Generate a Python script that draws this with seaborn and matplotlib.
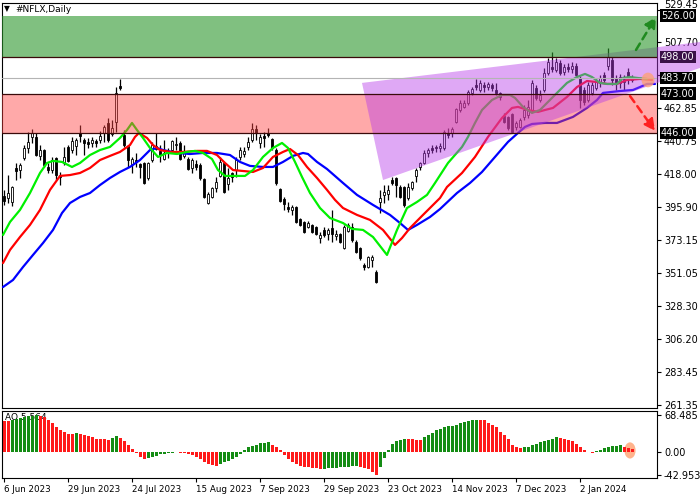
import matplotlib
matplotlib.use("Agg")
import matplotlib.pyplot as plt
import matplotlib.transforms as mtransforms
from matplotlib.patches import Polygon, Ellipse
import numpy as np
import pandas as pd
import seaborn as sns

sns.set_theme(style="white")
plt.rcParams['font.family'] = ['DejaVu Sans']

# ---------------- data ----------------
opens = [403.4, 402.0, 399.3, 422.4, 421.0, 429.2, 436.0, 443.5, 443.5, 430.6,
         434.6, 423.1, 421.0, 429.2, 417.6, 425.8, 436.7, 434.6, 437.4, 446.2,
         441.4, 440.1, 439.4, 440.7, 441.4, 446.2, 453.0, 445.5, 453.7, 478.1,
         444.8, 437.4, 425.1, 427.8, 425.1, 425.8, 415.6, 427.8, 435.3, 434.0,
         428.5, 434.0, 434.6, 438.0, 439.4, 430.6, 428.5, 422.4, 425.1, 424.4,
         415.0, 398.6, 402.7, 408.8, 417.0, 425.8, 411.5, 419.0, 421.0, 429.9,
         431.9, 436.7, 441.4, 448.9, 439.4, 444.1, 446.2, 442.1, 434.6, 408.1,
         401.3, 395.9, 393.9, 395.9, 387.8, 385.7, 382.3, 383.7, 382.3, 374.8,
         380.3, 377.6, 381.6, 376.2, 377.6, 368.0, 379.6, 382.3, 372.1, 368.0,
         356.5, 355.1, 359.9, 351.7, 399.3, 404.1, 404.7, 414.2, 415.6, 409.5,
         409.5, 402.0, 408.8, 417.0, 423.1, 425.8, 432.6, 436.0, 436.7, 436.0,
         436.0, 446.2, 446.2, 453.7, 461.8, 463.9, 466.6, 473.4, 478.8, 475.4,
         478.8, 477.4, 478.8, 475.4, 473.4, 457.7, 457.0, 459.1, 450.3, 450.3,
         457.0, 458.4, 461.8, 476.8, 468.6, 475.4, 487.0, 491.0, 489.0, 493.7,
         487.6, 491.0, 489.7, 491.7, 483.6, 475.4, 468.6, 473.4, 476.8, 480.2,
         485.6, 491.7, 495.8, 483.6, 480.2, 480.8, 487.6, 482.2]
highs = [407.5, 417.6, 410.2, 425.8, 425.8, 438.0, 446.9, 448.9, 446.2, 438.0,
         435.5, 425.8, 429.9, 429.9, 419.7, 436.7, 438.0, 443.5, 442.8, 451.6,
         442.8, 442.8, 443.5, 442.1, 447.6, 451.6, 456.4, 455.0, 477.4, 482.9,
         448.2, 438.0, 429.9, 432.6, 425.8, 426.5, 426.5, 440.1, 446.2, 438.0,
         441.4, 436.0, 441.4, 443.5, 440.7, 438.0, 429.9, 429.2, 427.8, 425.8,
         415.6, 406.1, 409.5, 416.3, 429.9, 426.5, 422.4, 419.7, 429.9, 436.7,
         436.7, 443.5, 453.0, 451.6, 445.5, 446.9, 449.6, 442.8, 436.0, 408.8,
         402.7, 399.3, 397.3, 396.6, 388.4, 386.4, 386.4, 384.4, 383.0, 378.9,
         382.3, 381.6, 393.9, 380.3, 378.2, 383.7, 385.0, 385.0, 373.5, 368.7,
         357.8, 362.6, 363.3, 353.1, 407.5, 410.8, 410.8, 416.3, 416.3, 410.8,
         410.2, 412.2, 413.6, 422.4, 426.5, 434.6, 436.0, 438.0, 438.0, 439.4,
         448.2, 449.6, 450.3, 463.2, 468.6, 468.6, 475.4, 477.4, 482.9, 482.2,
         480.8, 480.8, 480.2, 480.2, 474.1, 459.8, 457.7, 459.8, 454.4, 456.4,
         465.2, 468.6, 482.2, 478.8, 475.4, 490.4, 497.2, 501.2, 497.2, 495.8,
         493.1, 493.7, 494.4, 493.7, 484.9, 477.4, 480.8, 480.8, 483.6, 485.6,
         487.6, 504.0, 497.8, 485.6, 486.3, 485.6, 490.4, 485.6]
lows = [397.3, 398.6, 396.6, 414.2, 415.6, 427.8, 432.6, 439.4, 430.5, 427.8,
        423.1, 419.0, 419.0, 414.2, 410.8, 424.4, 426.5, 432.6, 431.2, 440.1,
        431.2, 436.0, 436.7, 436.7, 439.4, 440.1, 440.1, 444.1, 446.9, 475.4,
        436.7, 423.1, 419.0, 423.1, 415.6, 411.5, 414.2, 426.5, 434.6, 426.5,
        427.8, 429.2, 433.3, 434.6, 427.8, 429.2, 421.0, 419.0, 421.0, 414.2,
        402.0, 397.9, 402.0, 406.1, 416.3, 405.4, 407.5, 412.9, 416.3, 427.8,
        429.9, 434.6, 440.1, 441.4, 436.0, 436.7, 443.5, 434.6, 410.8, 399.3,
        393.9, 392.5, 390.5, 385.0, 383.0, 378.2, 381.6, 378.2, 376.9, 371.4,
        375.5, 373.5, 372.1, 373.5, 371.4, 367.3, 378.9, 372.1, 364.6, 359.9,
        353.1, 354.4, 355.1, 344.2, 391.8, 398.6, 400.7, 410.8, 402.7, 402.0,
        395.9, 400.7, 407.5, 412.9, 421.0, 425.1, 429.9, 432.6, 433.3, 433.3,
        434.6, 442.8, 443.5, 453.0, 460.5, 463.2, 465.2, 472.0, 475.4, 474.1,
        474.1, 475.4, 474.7, 472.0, 468.6, 453.0, 448.2, 446.2, 448.2, 449.6,
        455.0, 456.4, 460.5, 468.6, 467.2, 474.1, 485.6, 487.6, 487.6, 485.6,
        485.6, 487.6, 487.0, 484.2, 463.2, 465.2, 467.2, 472.0, 475.4, 477.4,
        480.2, 489.0, 478.8, 475.4, 476.8, 475.4, 479.5, 480.8]
closes = [400.0, 405.4, 409.5, 420.4, 424.4, 436.0, 440.1, 446.2, 431.2, 434.6,
          424.4, 421.0, 427.8, 417.6, 416.3, 429.9, 427.2, 440.7, 441.4, 444.1,
          439.4, 438.7, 441.4, 439.4, 444.1, 450.3, 441.4, 449.6, 473.4, 476.8,
          438.0, 427.8, 428.5, 426.5, 423.1, 412.2, 425.8, 438.0, 437.4, 431.2,
          432.6, 432.6, 440.7, 438.7, 428.5, 433.3, 421.7, 427.8, 423.1, 415.6,
          402.7, 404.7, 408.8, 412.9, 426.5, 406.1, 415.6, 416.3, 427.8, 434.6,
          434.0, 440.1, 448.9, 446.2, 443.5, 442.8, 444.8, 436.0, 412.2, 400.0,
          397.9, 394.6, 395.9, 385.7, 383.7, 378.9, 385.0, 378.9, 377.6, 376.9,
          376.9, 380.3, 377.6, 377.6, 372.1, 382.3, 383.7, 373.5, 365.3, 361.2,
          355.1, 361.9, 361.9, 344.9, 402.0, 406.1, 407.5, 412.2, 410.8, 402.7,
          397.3, 409.5, 412.9, 421.0, 425.8, 432.6, 434.6, 434.6, 436.0, 437.4,
          446.9, 444.8, 448.9, 462.5, 466.6, 466.6, 474.0, 476.1, 477.4, 480.2,
          477.4, 479.5, 476.8, 473.4, 470.7, 453.7, 449.6, 446.9, 453.0, 455.0,
          461.8, 463.9, 480.2, 470.0, 472.0, 487.0, 494.4, 489.7, 494.4, 487.0,
          491.0, 489.7, 491.7, 485.6, 468.6, 467.2, 478.8, 478.8, 480.8, 483.6,
          482.2, 497.8, 482.2, 480.2, 484.2, 482.9, 483.6, 483.7]

# Alligator lines (bar position, price)
jaw_x = [-0.25, 2.25, 4.75, 7.25, 9.75, 12.25, 14.5, 16.5, 19, 21.5, 24, 26.5, 29, 31.5,
         34, 36.5, 38.25, 39.75, 43.25, 46.5, 49.75, 53.25, 56.5, 59, 61.5, 64.75, 67.25,
         69.75, 72.25, 74.75, 76, 78.25, 80.75, 84.75, 88.25, 92.25, 96.5, 99, 101, 103.25,
         106.5, 109, 113.25, 116.5, 119.5, 122.75, 126, 128.5, 130.25, 132, 135.25, 138.25,
         142.25, 145.75, 148.25, 149.75, 154, 157.25, 159, 160.75, 162.75]
jaw_y = [341.5, 346.3, 355.1, 363.3, 371.4, 380.3, 391.8, 398.6, 402.7, 405.4, 410.8, 415.6,
         419.7, 423.1, 427.8, 434.6, 436.0, 434.6, 432.6, 431.9, 432.6, 432.6, 431.2, 426.5,
         423.8, 423.1, 423.1, 426.5, 430.6, 432.6, 431.9, 426.5, 421.7, 412.2, 404.1, 397.3,
         390.5, 385.0, 380.3, 383.7, 389.1, 394.5, 405.4, 412.2, 419.7, 429.9, 440.1, 446.2,
         450.3, 452.3, 453.0, 453.0, 457.1, 463.2, 468.6, 473.4, 474.7, 475.4, 477.4, 479.5,
         479.5]
teeth_x = [-0.25, 1.5, 4, 6.5, 9, 11.5, 14, 16.5, 19, 21.5, 24, 26.5, 29, 31.5, 32.75,
           33.75, 35.75, 37.25, 39, 41.5, 44.75, 48.25, 50.75, 53.25, 55.25, 57.25, 62.25,
           64.75, 67.25, 69.75, 71.5, 73.5, 75.75, 78.25, 80.75, 82.75, 84.75, 88.25, 91.5,
           94.75, 97.75, 99.5, 101.5, 104.75, 109, 110.75, 114.5, 117.75, 121, 124.5, 127,
           128.5, 131, 133.5, 135.25, 137.25, 140.75, 143.25, 145.75, 148.25, 150.75, 153.25,
           155.75, 159, 162]
teeth_y = [357.8, 366.7, 375.5, 383.7, 393.9, 407.5, 417.0, 417.6, 419.0, 422.4, 427.8,
           430.6, 433.3, 438.0, 443.5, 446.2, 442.8, 438.0, 434.6, 433.3, 433.3, 434.0,
           434.0, 431.2, 425.8, 421.0, 419.7, 422.4, 429.9, 433.3, 435.3, 431.2, 423.1,
           415.6, 407.5, 400.7, 395.2, 390.5, 387.1, 380.3, 370.1, 374.8, 381.6, 390.5,
           402.0, 409.5, 419.0, 429.9, 443.5, 456.4, 463.2, 463.9, 461.8, 460.5, 461.8,
           463.2, 470.7, 477.4, 481.5, 480.8, 479.5, 479.5, 482.2, 482.9, 482.2]
lips_x = [-0.25, 1.5, 4, 6.5, 9, 10.75, 12.25, 14.5, 17, 19, 21.5, 24, 26.5, 29, 30.75, 32,
          33.25, 34.75, 36.5, 38.5, 40.75, 43.25, 45.75, 47.75, 49.75, 52, 53.5, 55.25,
          57.75, 60.25, 62.25, 64.75, 67.25, 69.5, 71, 72.75, 74.5, 76.5, 79, 81.5, 84.75,
          87, 89.75, 92.25, 95.75, 98.25, 100.75, 103.25, 105.75, 107.75, 111, 114.5, 116,
          117.75, 119.5, 122, 124.5, 126.5, 127.75, 129.75, 132, 134, 137.25, 140.75,
          143.25, 145.25, 147, 149, 150.75, 153.25, 154.75, 156.5, 158.25, 160.75]
lips_y = [376.9, 385.7, 393.9, 405.4, 419.0, 425.8, 427.2, 426.5, 423.1, 425.8, 431.2,
          434.6, 436.7, 442.8, 448.2, 453.0, 448.2, 442.8, 436.0, 429.9, 432.6, 431.9,
          433.3, 434.0, 432.6, 428.5, 421.0, 417.0, 417.0, 417.0, 421.0, 429.9, 436.0,
          439.4, 436.0, 426.5, 416.3, 405.4, 395.2, 388.4, 385.0, 381.0, 380.3, 375.5,
          363.3, 380.3, 395.2, 399.3, 404.1, 412.2, 425.8, 436.7, 443.5, 453.0, 461.8,
          468.6, 472.0, 472.0, 470.0, 463.9, 459.8, 461.8, 470.7, 480.2, 484.2, 486.3,
          484.2, 480.2, 479.5, 479.5, 483.6, 484.2, 483.6, 482.9]

# Awesome Oscillator values
ao_values = [58, 57.5, 59, 61, 63, 64.5, 66, 67.5, 68.485, 67,
             65, 59, 53, 46, 41, 37, 34, 33, 36, 33,
             31, 30, 27.5, 25, 24, 23.5, 23, 26.5, 30, 26.5,
             20, 13.5, 6.5, -2, -9, -12, -11, -8.5, -6.5, -4.5,
             -3, -2, -1, -0.5, -1, -1.5, -3, -5.5, -9, -13.5,
             -18, -22, -24, -25, -22, -19, -16, -13, -9, -3,
             4, 9, 11, 14, 16.5, 17.5, 18, 14, 9, 3,
             -5.5, -12.5, -18, -23, -25.5, -27, -28, -29, -30, -31,
             -30.5, -30, -29.5, -29, -28.5, -28, -27.5, -26.5, -25.5, -27.5,
             -30, -32, -36, -42.953, -27, -11, 3.5, 15.5, 20, 23,
             24.5, 24, 23.5, 23, 22.5, 27, 32, 36, 40, 43.5,
             45.5, 47.5, 49, 51, 53, 55.5, 57, 59, 60, 59.5,
             59, 54.5, 51, 45.5, 38, 32, 24.5, 13.5, 9, 8,
             8.5, 10, 12.5, 15.5, 18, 20, 23, 24.5, 27, 25.5,
             24.5, 23, 20, 15.5, 10, 4.5, 1, -1, 2, 4.5,
             7, 10, 11, 12, 12.5, 9, 7.5, 5.56]

date_tick_pos = [0, 16, 32, 48, 64, 80, 96, 112, 128, 144]
date_tick_labels = ["6 Jun 2023", "29 Jun 2023", "24 Jul 2023", "15 Aug 2023", "7 Sep 2023",
                    "29 Sep 2023", "23 Oct 2023", "14 Nov 2023", "7 Dec 2023", "2 Jan 2024"]
price_ticks = [529.45, 507.70, 485.60, 462.85, 440.75, 418.00, 395.90, 373.15, 351.05,
               328.30, 306.20, 283.45, 261.35]
ao_ticks = [68.485, 0.0, -42.953]
ao_tick_labels = ["68.485", "0.00", "-42.953"]

resistance_zone = [498.0, 526.0]
support_zone = [446.0, 473.0]
zone_lines = [498.0, 473.0, 446.0]
channel_x = [89.5, 94.75, 174.0, 174.0]
channel_y = [480.2, 414.2, 490.4, 508.0]
last_price = 483.70
box_levels = [526.00, 498.00, 483.70, 473.00, 446.00]
box_colors = ["black", "#3a1048", "black", "black", "black"]
up_arrow = [(158.0, 502.6), (163.0, 525.0)]
down_arrow = [(156.5, 471.3), (162.75, 447.6)]
title_text = "#NFLX,Daily"
ao_label = "AO 5.564"

# ---------------- figure ----------------
fig = plt.figure(figsize=(7, 5), dpi=100, facecolor="white")
ax = fig.add_axes([2 / 700, 1 - 408 / 500, 655 / 700, 405 / 500])
ax2 = fig.add_axes([2 / 700, 1 - 478 / 500, 655 / 700, 67 / 500])

XL = (-0.5, 163.25)

o = np.array(opens); h = np.array(highs); l = np.array(lows); c = np.array(closes)
idx = np.arange(len(c))
up = c >= o

ax.vlines(idx, l, h, color="black", lw=0.9, zorder=2)
ax.bar(idx, np.abs(c - o), bottom=np.minimum(o, c), width=0.7,
       color=np.where(up, "white", "black"), edgecolor="black", linewidth=0.6, zorder=2.1)

lines_df = pd.concat([
    pd.DataFrame({"bar": jaw_x, "price": jaw_y, "line": "jaw"}),
    pd.DataFrame({"bar": teeth_x, "price": teeth_y, "line": "teeth"}),
    pd.DataFrame({"bar": lips_x, "price": lips_y, "line": "lips"}),
])
sns.lineplot(data=lines_df, x="bar", y="price", hue="line",
             palette={"jaw": "#0000ff", "teeth": "#ff0000", "lips": "#00f000"},
             lw=1.6, legend=False, ax=ax, zorder=3, estimator=None, sort=True)

# zones drawn over the data with transparency (MT4-like blending)
ax.axhspan(support_zone[0], support_zone[1], color=(1.0, 66 / 255, 66 / 255), alpha=0.45,
           lw=0, zorder=4)
ax.add_patch(Polygon(list(zip(channel_x, channel_y)), closed=True,
                     facecolor=(184 / 255, 62 / 255, 233 / 255), alpha=0.45, lw=0,
                     zorder=5, clip_on=False))
ax.axhspan(resistance_zone[0], resistance_zone[1], color=(43 / 255, 150 / 255, 43 / 255),
           alpha=0.6, lw=0, zorder=6)
for lv in zone_lines:
    ax.axhline(lv, color="#3a0a0a", lw=0.9, zorder=7)
ax.axhline(last_price, color="#b4b4b4", lw=0.8, zorder=7)

ax.annotate("", xy=up_arrow[1], xytext=up_arrow[0], annotation_clip=False, zorder=8,
            arrowprops=dict(arrowstyle="-|>,head_length=0.55,head_width=0.28",
                            color="#1f8a1f", lw=1.8, linestyle=(0, (3, 2)),
                            shrinkA=0, shrinkB=0))
ax.annotate("", xy=down_arrow[1], xytext=down_arrow[0], annotation_clip=False, zorder=8,
            arrowprops=dict(arrowstyle="-|>,head_length=0.55,head_width=0.28",
                            color="#ff2020", lw=1.8, linestyle=(0, (3, 2)),
                            shrinkA=0, shrinkB=0))
ax.add_patch(Ellipse((teeth_x[-1] - 1, teeth_y[-1]), width=3.2, height=10,
                     facecolor="#ffa070", alpha=0.75, lw=0, zorder=8))

ax.set_xlim(*XL)
ax.set_ylim(259.3, 534.5)
ax.set_xticks([])
ax.yaxis.tick_right()
ax.set_yticks(price_ticks)
# 485.60 is hidden behind the 483.70 price box in the reference
ax.set_yticklabels(["" if abs(v - 485.60) < 1e-6 else f"{v:.2f}" for v in price_ticks])
ax.tick_params(axis="y", right=True, left=False, direction="out", length=3, width=0.8,
               labelsize=7, pad=2, colors="black")
ax.get_yticklabels()[0].set_verticalalignment("bottom")
ax.set_xlabel(""); ax.set_ylabel("")
for s in ax.spines.values():
    s.set_color("black"); s.set_linewidth(0.8)

trans = mtransforms.blended_transform_factory(ax.transAxes, ax.transData)
for lv, fc in zip(box_levels, box_colors):
    ax.text(1.006, lv, f"{lv:.2f}", transform=trans, color="white", fontsize=7,
            va="center", ha="left", clip_on=False, zorder=12,
            bbox=dict(boxstyle="square,pad=0.12", fc=fc, ec="none"))

fig.text(4 / 700, 1 - 9 / 500, "\u25BC", fontsize=5.5, va="center", ha="left", color="black")
fig.text(15 / 700, 1 - 9 / 500, title_text, fontsize=6.5, va="center", ha="left", color="black")

# ---------------- AO panel ----------------
ao = np.array(ao_values)
ao_cols = ["#ff1a1a"] + ["#148c14" if ao[i] > ao[i - 1] else "#ff1a1a"
                         for i in range(1, len(ao))]
ax2.add_patch(Ellipse((len(ao) - 1.5, 3), width=2.8, height=30,
                      facecolor="#ffa070", alpha=0.8, lw=0, zorder=1.5))
ax2.bar(np.arange(len(ao)), ao, width=0.75, color=ao_cols, lw=0, zorder=2)
ax2.text((5 - 2) / 655, (478 - 418) / 67, ao_label, transform=ax2.transAxes, fontsize=6.5,
         va="center", ha="left", color="black", zorder=1)
ax2.set_xlim(*XL)
ax2.set_ylim(-48, 76)
ax2.yaxis.tick_right()
ax2.set_yticks(ao_ticks)
ax2.set_yticklabels(ao_tick_labels)
ax2.set_xticks(date_tick_pos)
ax2.set_xticklabels(date_tick_labels, ha="left")
ax2.tick_params(axis="y", right=True, left=False, direction="out", length=3, width=0.8,
                labelsize=7, pad=2, colors="black")
ax2.tick_params(axis="x", bottom=True, direction="out", length=3, width=0.8,
                labelsize=6.3, pad=2, colors="black")
ax2.set_xlabel(""); ax2.set_ylabel("")
for s in ax2.spines.values():
    s.set_color("black"); s.set_linewidth(0.8)

fig.savefig("out.png", dpi=100, facecolor="white")
